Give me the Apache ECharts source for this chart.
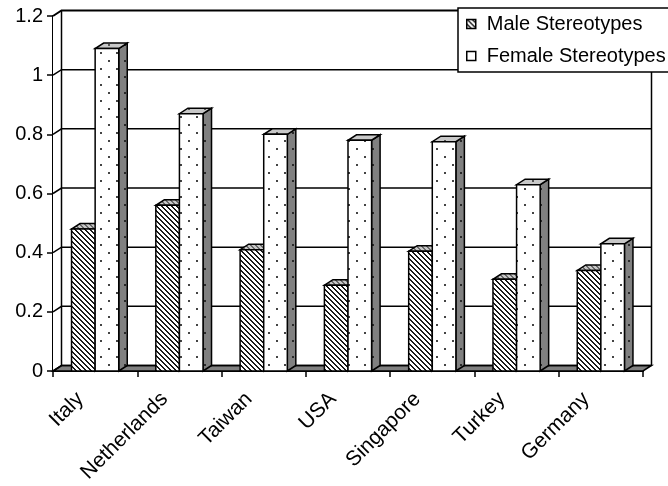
<!DOCTYPE html>
<html>
<head>
<meta charset="utf-8">
<script src="https://cdn.jsdelivr.net/npm/echarts@6/dist/echarts.min.js"></script>
<style>
  html, body { margin: 0; padding: 0; background: #fff; }
  #chart { width: 668px; height: 486px; }
</style>
</head>
<body>
<div id="chart"></div>
<script>
// Stereotype scores by country
const countries = ['Italy', 'Netherlands', 'Taiwan', 'USA', 'Singapore', 'Turkey', 'Germany'];
const maleValues = [0.48, 0.56, 0.41, 0.29, 0.405, 0.31, 0.34];
const femaleValues = [1.09, 0.87, 0.80, 0.78, 0.775, 0.63, 0.43];
const yTicks = [0, 0.2, 0.4, 0.6, 0.8, 1.0, 1.2];
const seriesNames = ['Male Stereotypes', 'Female Stereotypes'];

// Depth of the pseudo-3D extrusion (pixels)
const DX = 8.5, DY = -5.5;
const FONT = '"Liberation Sans", Arial, sans-serif';

function makePattern(w, h, bg, draw) {
  const c = document.createElement('canvas');
  c.width = w; c.height = h;
  const g = c.getContext('2d');
  g.fillStyle = bg;
  g.fillRect(0, 0, w, h);
  draw(g);
  return { image: c, repeat: 'repeat' };
}
function hatch(color) {
  return function (g) {
    g.fillStyle = color;
    for (let i = 0; i < 5; i++) {
      g.fillRect(i, i, 1, 1);
      g.fillRect((i + 1) % 5, i, 1, 1);
    }
  };
}
function dots(color) {
  return function (g) {
    g.fillStyle = color;
    g.fillRect(4, 4, 2, 2);
    g.fillRect(12, 12, 2, 2);
  };
}

const fills = {
  male: {
    front: makePattern(5, 5, '#ffffff', hatch('#1a1a1a')),
    top: makePattern(5, 5, '#c8c8c8', hatch('#6a6a6a')),
    side: makePattern(5, 5, '#808080', hatch('#333333'))
  },
  female: {
    front: makePattern(16, 16, '#ffffff', dots('#444444')),
    top: makePattern(16, 16, '#c8c8c8', dots('#555555')),
    side: makePattern(16, 16, '#808080', dots('#2a2a2a'))
  }
};

const edge = { stroke: '#000', lineWidth: 1.5, lineJoin: 'miter' };

function barRenderer(slot, style) {
  return function (params, api) {
    const ci = api.value(0);
    const v = api.value(1);
    const top = api.coord([ci, v]);
    const base = api.coord([ci, 0]);
    const catW = api.size([1, 0])[0];
    const w = catW * 0.28;
    const x0 = slot === 0 ? top[0] - w : top[0];
    const x1 = x0 + w;
    const yt = top[1], yb = base[1];
    return {
      type: 'group',
      children: [
        { type: 'polygon', shape: { points: [[x1, yt], [x1 + DX, yt + DY], [x1 + DX, yb + DY], [x1, yb]] },
          style: Object.assign({ fill: style.side }, edge) },
        { type: 'polygon', shape: { points: [[x0, yt], [x1, yt], [x1 + DX, yt + DY], [x0 + DX, yt + DY]] },
          style: Object.assign({ fill: style.top }, edge) },
        { type: 'rect', shape: { x: x0, y: yt, width: w, height: yb - yt },
          style: Object.assign({ fill: style.front }, edge) }
      ]
    };
  };
}

// Walls, floor and gridlines of the 3D box
function frameRenderer(params, api) {
  const cs = params.coordSys;
  const x = cs.x, y = cs.y, w = cs.width, h = cs.height;
  const yb = y + h;
  const children = [
    { type: 'rect', shape: { x: x + DX, y: y + DY, width: w, height: h }, style: { fill: '#fff' } },
    { type: 'polygon', shape: { points: [[x, y], [x + DX, y + DY], [x + DX, yb + DY], [x, yb]] }, style: { fill: '#fff' } },
    { type: 'polygon', shape: { points: [[x, yb], [x + w, yb], [x + w + DX, yb + DY], [x + DX, yb + DY]] },
      style: { fill: '#808080', stroke: '#000', lineWidth: 1.5 } },
    { type: 'line', shape: { x1: x + DX, y1: y + DY, x2: x + DX, y2: yb + DY }, style: { stroke: '#000', lineWidth: 1.5 } },
    { type: 'line', shape: { x1: x + w + DX, y1: y + DY, x2: x + w + DX, y2: yb + DY }, style: { stroke: '#000', lineWidth: 1.5 } }
  ];
  yTicks.forEach(function (t) {
    const yy = api.coord([0, t])[1];
    children.push({ type: 'polyline',
      shape: { points: [[x, yy], [x + DX, yy + DY], [x + w + DX, yy + DY]] },
      style: { stroke: '#000', lineWidth: t === 1.2 ? 2 : 1.5, fill: null } });
  });
  return { type: 'group', children: children };
}

const chart = echarts.init(document.getElementById('chart'), null, { renderer: 'canvas' });
chart.setOption({
  animation: false,
  backgroundColor: '#fff',
  grid: { left: 53, right: 25, top: 16, bottom: 115, containLabel: false },
  legend: {
    left: 458, top: 8, orient: 'vertical',
    backgroundColor: '#fff', borderColor: '#000', borderWidth: 1.5,
    padding: [6, 30, 6, 8],
    itemWidth: 9, itemHeight: 9, itemGap: 12, icon: 'rect',
    textStyle: { fontFamily: FONT, fontSize: 20, color: '#000', lineHeight: 20, padding: [0, 0, 0, 6] },
    data: [
      { name: seriesNames[0], itemStyle: { color: fills.male.front, borderColor: '#000', borderWidth: 1.5 } },
      { name: seriesNames[1], itemStyle: { color: '#fff', borderColor: '#000', borderWidth: 1.5 } }
    ]
  },
  xAxis: {
    type: 'category',
    data: countries,
    boundaryGap: true,
    axisLine: { lineStyle: { color: '#000', width: 2 } },
    axisTick: { show: true, length: 6, lineStyle: { color: '#000', width: 1.5 } },
    axisLabel: { rotate: 45, margin: 10, padding: [0, 21, 0, 0], fontFamily: FONT, fontSize: 21, color: '#000', interval: 0 },
    splitLine: { show: false }
  },
  yAxis: {
    type: 'value',
    min: 0, max: 1.2, interval: 0.2,
    axisLine: { show: true, lineStyle: { color: '#000', width: 2 } },
    axisTick: { show: true, length: 6, lineStyle: { color: '#000', width: 1.5 } },
    axisLabel: { margin: 10, fontFamily: FONT, fontSize: 20, color: '#000' },
    splitLine: { show: false }
  },
  series: [
    { type: 'custom', name: 'frame', z: 1, silent: true, clip: false,
      renderItem: frameRenderer, data: [[0, 0]], encode: { x: 0, y: 1 } },
    { type: 'custom', name: seriesNames[0], z: 2, clip: false,
      itemStyle: { color: fills.male.front, borderColor: '#000' },
      renderItem: barRenderer(0, fills.male),
      data: maleValues.map(function (v, i) { return [i, v]; }), encode: { x: 0, y: 1 } },
    { type: 'custom', name: seriesNames[1], z: 3, clip: false,
      itemStyle: { color: '#fff', borderColor: '#000' },
      renderItem: barRenderer(1, fills.female),
      data: femaleValues.map(function (v, i) { return [i, v]; }), encode: { x: 0, y: 1 } }
  ]
});
</script>
</body>
</html>
